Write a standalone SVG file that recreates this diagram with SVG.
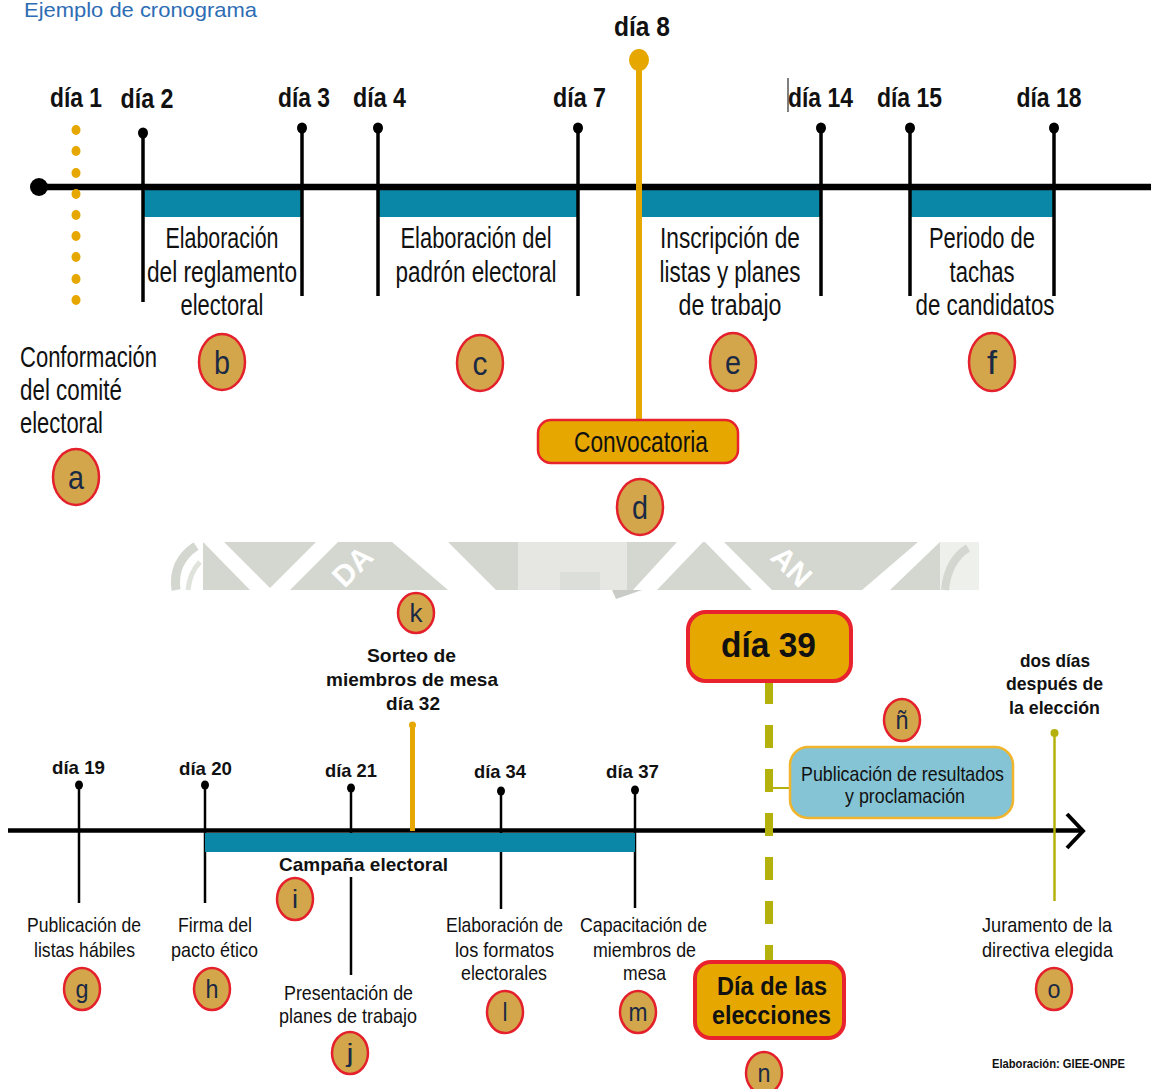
<svg xmlns="http://www.w3.org/2000/svg" width="1151" height="1089" viewBox="0 0 1151 1089">
<style>
text{font-family:"Liberation Sans",Arial,sans-serif;fill:#111}
.dt{font-size:27px;font-weight:bold;text-anchor:middle}
.tt{font-size:29px;text-anchor:middle}
.bt{font-size:21px;text-anchor:middle}
.bb{font-size:19px;font-weight:bold;text-anchor:middle}
.c1{fill:#d4a64b;stroke:#e3202b;stroke-width:2.5}
.l1{font-size:34px;text-anchor:middle;fill:#1b2a44}
.l2{font-size:26px;text-anchor:middle;fill:#1b2a44}
.tk{stroke:#000;stroke-width:3.5}
.tk2{stroke:#000;stroke-width:2.5}
.bar{fill:#0a86a6}
.box{fill:#e6a700;stroke:#e8232e}
.wm{fill:#fff}
</style>

<!-- watermark fragment -->
<g id="watermark">
<rect x="167" y="542" width="812" height="48" fill="#d4d7cf"/>
<rect x="167" y="542" width="36" height="48" class="wm"/>
<path d="M176,590 Q172,562 196,546" fill="none" stroke="#d4d7cf" stroke-width="9"/>
<path d="M188,590 Q190,572 200,562" fill="none" stroke="#e0e2dc" stroke-width="5"/>
<polygon class="wm" points="203,542 224,542 272,590 250,590"/>
<polygon class="wm" points="268,590 290,590 338,542 316,542"/>
<polygon class="wm" points="392,542 448,542 496,590 448,590"/>
<polygon points="518,542 627,542 627,590 518,590" fill="#e6e7e3"/>
<polygon points="560,572 600,572 600,590 560,590" fill="#dcdeda"/>
<polygon class="wm" points="633,590 657,590 703,542 677,542"/>
<polygon class="wm" points="705,542 724,542 772,590 752,590"/>
<polygon class="wm" points="862,590 890,590 940,542 918,542"/>
<rect x="940" y="542" width="39" height="48" fill="#eef0ec"/>
<path d="M945,590 Q948,560 968,548" fill="none" stroke="#d4d7cf" stroke-width="8"/>
<polygon points="612,590 642,590 616,599" fill="#c9ccc6"/>
<text x="352" y="577" transform="rotate(-45 352 566)" font-size="30" font-weight="bold" text-anchor="middle" style="fill:#fff">DA</text>
<text x="792" y="577" transform="rotate(45 792 566)" font-size="30" font-weight="bold" text-anchor="middle" style="fill:#fff">AN</text>
</g>

<!-- title -->
<g id="title">
<text x="24" y="17" font-size="21" textLength="233" lengthAdjust="spacingAndGlyphs" style="fill:#2d6db4">Ejemplo de cronograma</text>
</g>

<!-- connectors: axes, bars, ticks -->
<g id="connectors">
<!-- top timeline -->
<rect class="bar" x="143" y="190" width="159" height="27"/>
<rect class="bar" x="378" y="190" width="200" height="27"/>
<rect class="bar" x="641" y="190" width="180" height="27"/>
<rect class="bar" x="910" y="190" width="144" height="27"/>
<line x1="39" y1="187" x2="1151" y2="187" stroke="#000" stroke-width="6.5"/>
<circle cx="39" cy="187" r="9" fill="#000"/>
<g fill="#e6a700">
<ellipse cx="76" cy="130" rx="4.5" ry="5"/><ellipse cx="76" cy="151" rx="4.5" ry="5"/><ellipse cx="76" cy="173" rx="4.5" ry="5"/>
<ellipse cx="76" cy="194" rx="4.5" ry="5"/><ellipse cx="76" cy="215" rx="4.5" ry="5"/><ellipse cx="76" cy="236" rx="4.5" ry="5"/>
<ellipse cx="76" cy="257" rx="4.5" ry="5"/><ellipse cx="76" cy="279" rx="4.5" ry="5"/><ellipse cx="76" cy="300" rx="4.5" ry="5"/>
</g>
<line class="tk" x1="143" y1="133" x2="143" y2="302"/><ellipse cx="143" cy="133" rx="5" ry="5.5"/>
<line class="tk" x1="302" y1="128" x2="302" y2="296"/><ellipse cx="302" cy="128" rx="5" ry="5.5"/>
<line class="tk" x1="378" y1="128" x2="378" y2="296"/><ellipse cx="378" cy="128" rx="5" ry="5.5"/>
<line class="tk" x1="578" y1="128" x2="578" y2="296"/><ellipse cx="578" cy="128" rx="5" ry="5.5"/>
<line class="tk" x1="821" y1="128" x2="821" y2="296"/><ellipse cx="821" cy="128" rx="5" ry="5.5"/>
<line class="tk" x1="910" y1="128" x2="910" y2="296"/><ellipse cx="910" cy="128" rx="5" ry="5.5"/>
<line class="tk" x1="1054" y1="128" x2="1054" y2="296"/><ellipse cx="1054" cy="128" rx="5" ry="5.5"/>
<line x1="639" y1="60" x2="639" y2="421" stroke="#e6a700" stroke-width="6"/>
<ellipse cx="639" cy="60" rx="10" ry="11" fill="#e6a700"/>
<line x1="788" y1="78" x2="788" y2="112" stroke="#000" stroke-width="1"/>

<!-- bottom timeline -->
<line class="tk2" x1="79" y1="785" x2="79" y2="903"/><ellipse cx="79" cy="785" rx="4" ry="4.5"/>
<line class="tk2" x1="205" y1="785" x2="205" y2="903"/><ellipse cx="205" cy="785" rx="4" ry="4.5"/>
<line class="tk2" x1="351" y1="788" x2="351" y2="833"/><line class="tk2" x1="351" y1="877" x2="351" y2="975"/><ellipse cx="351" cy="788" rx="4" ry="4.5"/>
<line class="tk2" x1="501" y1="791" x2="501" y2="909"/><ellipse cx="501" cy="791" rx="4" ry="4.5"/>
<line class="tk2" x1="635" y1="790" x2="635" y2="908"/><ellipse cx="635" cy="790" rx="4" ry="4.5"/>
<line x1="8" y1="830.5" x2="1082" y2="830.5" stroke="#000" stroke-width="4.5"/>
<polyline points="1067,814 1083,831 1067,848" fill="none" stroke="#000" stroke-width="4"/>
<rect class="bar" x="205" y="833" width="430" height="19"/>
<line x1="412.5" y1="725" x2="412.5" y2="831" stroke="#e6a700" stroke-width="5"/>
<circle cx="412.5" cy="725" r="3.5" fill="#e6a700"/>
<line x1="769" y1="681" x2="769" y2="962" stroke="#b5b10c" stroke-width="8" stroke-dasharray="23 21"/>
<line x1="769" y1="788" x2="790" y2="788" stroke="#b5b10c" stroke-width="2"/>
<line x1="1054.5" y1="733" x2="1054.5" y2="901" stroke="#b5b10c" stroke-width="2.5"/>
<circle cx="1054.5" cy="733" r="4" fill="#b5b10c"/>
</g>

<!-- top day labels -->
<g id="top-days">
<text class="dt" x="76" y="107" textLength="52" lengthAdjust="spacingAndGlyphs">día 1</text>
<text class="dt" x="147" y="108" textLength="53" lengthAdjust="spacingAndGlyphs">día 2</text>
<text class="dt" x="304" y="107" textLength="52" lengthAdjust="spacingAndGlyphs">día 3</text>
<text class="dt" x="379.5" y="107" textLength="53" lengthAdjust="spacingAndGlyphs">día 4</text>
<text class="dt" x="579.5" y="107" textLength="53" lengthAdjust="spacingAndGlyphs">día 7</text>
<text class="dt" x="642" y="36" font-size="28" textLength="56" lengthAdjust="spacingAndGlyphs">día 8</text>
<text class="dt" x="820.5" y="107" textLength="65" lengthAdjust="spacingAndGlyphs">día 14</text>
<text class="dt" x="909.5" y="107" textLength="65" lengthAdjust="spacingAndGlyphs">día 15</text>
<text class="dt" x="1049" y="107" textLength="65" lengthAdjust="spacingAndGlyphs">día 18</text>
</g>

<g id="node-a">
<text x="20" y="367" font-size="29" textLength="137" lengthAdjust="spacingAndGlyphs">Conformación</text>
<text x="20" y="400" font-size="29" textLength="102" lengthAdjust="spacingAndGlyphs">del comité</text>
<text x="20" y="433" font-size="29" textLength="83" lengthAdjust="spacingAndGlyphs">electoral</text>
<ellipse class="c1" cx="76" cy="477" rx="23" ry="28"/>
<text class="l1" x="76" y="489" textLength="16" lengthAdjust="spacingAndGlyphs">a</text>
</g>

<g id="node-b">
<text class="tt" x="222" y="248" textLength="113" lengthAdjust="spacingAndGlyphs">Elaboración</text>
<text class="tt" x="222" y="282" textLength="150" lengthAdjust="spacingAndGlyphs">del reglamento</text>
<text class="tt" x="222" y="315" textLength="83" lengthAdjust="spacingAndGlyphs">electoral</text>
<ellipse class="c1" cx="222" cy="362" rx="23" ry="28"/>
<text class="l1" x="222" y="374" textLength="16" lengthAdjust="spacingAndGlyphs">b</text>
</g>

<g id="node-c">
<text class="tt" x="476" y="248" textLength="151" lengthAdjust="spacingAndGlyphs">Elaboración del</text>
<text class="tt" x="476" y="282" textLength="161" lengthAdjust="spacingAndGlyphs">padrón electoral</text>
<ellipse class="c1" cx="480" cy="363" rx="23" ry="28"/>
<text class="l1" x="480" y="375" textLength="15" lengthAdjust="spacingAndGlyphs">c</text>
</g>

<g id="node-d">
<rect class="box" x="538" y="420" width="200" height="43" rx="13" stroke-width="2.5"/>
<text class="tt" x="641" y="452" textLength="134" lengthAdjust="spacingAndGlyphs">Convocatoria</text>
<ellipse class="c1" cx="640" cy="507" rx="23" ry="28"/>
<text class="l1" x="640" y="519" textLength="16" lengthAdjust="spacingAndGlyphs">d</text>
</g>

<g id="node-e">
<text class="tt" x="730" y="248" textLength="140" lengthAdjust="spacingAndGlyphs">Inscripción de</text>
<text class="tt" x="730" y="282" textLength="141" lengthAdjust="spacingAndGlyphs">listas y planes</text>
<text class="tt" x="730" y="315" textLength="103" lengthAdjust="spacingAndGlyphs">de trabajo</text>
<ellipse class="c1" cx="733" cy="362" rx="23" ry="29"/>
<text class="l1" x="733" y="374" textLength="16" lengthAdjust="spacingAndGlyphs">e</text>
</g>

<g id="node-f">
<text class="tt" x="982" y="248" textLength="106" lengthAdjust="spacingAndGlyphs">Periodo de</text>
<text class="tt" x="982" y="282" textLength="65" lengthAdjust="spacingAndGlyphs">tachas</text>
<text class="tt" x="985" y="315" textLength="139" lengthAdjust="spacingAndGlyphs">de candidatos</text>
<ellipse class="c1" cx="992" cy="362" rx="23" ry="29"/>
<text class="l1" x="992" y="374" textLength="10" lengthAdjust="spacingAndGlyphs">f</text>
</g>

<!-- bottom day labels -->
<g id="bottom-days">
<text class="bb" x="78.5" y="774" textLength="53" lengthAdjust="spacingAndGlyphs">día 19</text>
<text class="bb" x="205.5" y="775" textLength="53" lengthAdjust="spacingAndGlyphs">día 20</text>
<text class="bb" x="351" y="777" textLength="52" lengthAdjust="spacingAndGlyphs">día 21</text>
<text class="bb" x="500" y="778" textLength="52" lengthAdjust="spacingAndGlyphs">día 34</text>
<text class="bb" x="632.5" y="778" textLength="53" lengthAdjust="spacingAndGlyphs">día 37</text>
</g>

<g id="node-g">
<text class="bt" x="84" y="932" textLength="114" lengthAdjust="spacingAndGlyphs">Publicación de</text>
<text class="bt" x="84.5" y="957" textLength="101" lengthAdjust="spacingAndGlyphs">listas hábiles</text>
<ellipse class="c1" cx="82" cy="989" rx="18" ry="21"/>
<text class="l2" x="82" y="998" textLength="13" lengthAdjust="spacingAndGlyphs">g</text>
</g>

<g id="node-h">
<text class="bt" x="215" y="932" textLength="74" lengthAdjust="spacingAndGlyphs">Firma del</text>
<text class="bt" x="214.5" y="957" textLength="87" lengthAdjust="spacingAndGlyphs">pacto ético</text>
<ellipse class="c1" cx="212" cy="989" rx="18" ry="21"/>
<text class="l2" x="212" y="998" textLength="13" lengthAdjust="spacingAndGlyphs">h</text>
</g>

<g id="node-i">
<text class="bb" x="363.5" y="871" textLength="169" lengthAdjust="spacingAndGlyphs">Campaña electoral</text>
<ellipse class="c1" cx="295" cy="899" rx="18" ry="21"/>
<text class="l2" x="295" y="908" textLength="6" lengthAdjust="spacingAndGlyphs">i</text>
</g>

<g id="node-j">
<text class="bt" x="348.5" y="1000" textLength="129" lengthAdjust="spacingAndGlyphs">Presentación de</text>
<text class="bt" x="348" y="1023" textLength="138" lengthAdjust="spacingAndGlyphs">planes de trabajo</text>
<ellipse class="c1" cx="350" cy="1053" rx="18" ry="21"/>
<text class="l2" x="350" y="1062" textLength="7" lengthAdjust="spacingAndGlyphs">j</text>
</g>

<g id="node-k">
<ellipse class="c1" cx="416" cy="613" rx="18" ry="20"/>
<text class="l2" x="416" y="622" textLength="13" lengthAdjust="spacingAndGlyphs">k</text>
<text class="bb" x="411.5" y="662" textLength="89" lengthAdjust="spacingAndGlyphs">Sorteo de</text>
<text class="bb" x="412" y="686" textLength="172" lengthAdjust="spacingAndGlyphs">miembros de mesa</text>
<text class="bb" x="413" y="710" textLength="54" lengthAdjust="spacingAndGlyphs">día 32</text>
</g>

<g id="node-l">
<text class="bt" x="504.5" y="932" textLength="117" lengthAdjust="spacingAndGlyphs">Elaboración de</text>
<text class="bt" x="504.5" y="957" textLength="99" lengthAdjust="spacingAndGlyphs">los formatos</text>
<text class="bt" x="504" y="980" textLength="86" lengthAdjust="spacingAndGlyphs">electorales</text>
<ellipse class="c1" cx="505" cy="1012" rx="18" ry="21"/>
<text class="l2" x="505" y="1021" textLength="5" lengthAdjust="spacingAndGlyphs">l</text>
</g>

<g id="node-m">
<text class="bt" x="643.5" y="932" textLength="127" lengthAdjust="spacingAndGlyphs">Capacitación de</text>
<text class="bt" x="644.5" y="957" textLength="103" lengthAdjust="spacingAndGlyphs">miembros de</text>
<text class="bt" x="644.5" y="980" textLength="43" lengthAdjust="spacingAndGlyphs">mesa</text>
<ellipse class="c1" cx="638" cy="1012" rx="18" ry="21"/>
<text class="l2" x="638" y="1021" textLength="19" lengthAdjust="spacingAndGlyphs">m</text>
</g>

<g id="node-dia39">
<rect class="box" x="688" y="612" width="163" height="69" rx="18" stroke-width="4"/>
<text x="768.5" y="657" font-size="35" font-weight="bold" text-anchor="middle" textLength="95" lengthAdjust="spacingAndGlyphs">día 39</text>
</g>

<g id="node-n">
<rect class="box" x="695" y="962" width="149" height="76" rx="16" stroke-width="4"/>
<text x="772" y="995" font-size="25" font-weight="bold" text-anchor="middle" textLength="110" lengthAdjust="spacingAndGlyphs">Día de las</text>
<text x="771.5" y="1024" font-size="25" font-weight="bold" text-anchor="middle" textLength="119" lengthAdjust="spacingAndGlyphs">elecciones</text>
<ellipse class="c1" cx="764" cy="1073" rx="18" ry="21"/>
<text class="l2" x="764" y="1082" textLength="13" lengthAdjust="spacingAndGlyphs">n</text>
</g>

<g id="node-enie">
<ellipse class="c1" cx="902" cy="720" rx="18" ry="21"/>
<text class="l2" x="902" y="729" textLength="13" lengthAdjust="spacingAndGlyphs">ñ</text>
<rect x="790" y="747" width="223" height="71" rx="18" fill="#84c4d4" stroke="#f1b52d" stroke-width="2.5"/>
<text x="902.5" y="781" font-size="21" text-anchor="middle" textLength="203" lengthAdjust="spacingAndGlyphs">Publicación de resultados</text>
<text x="905" y="803" font-size="21" text-anchor="middle" textLength="120" lengthAdjust="spacingAndGlyphs">y proclamación</text>
</g>

<g id="node-o">
<text class="bb" x="1055" y="667" textLength="70" lengthAdjust="spacingAndGlyphs">dos días</text>
<text class="bb" x="1054.5" y="690" textLength="97" lengthAdjust="spacingAndGlyphs">después de</text>
<text class="bb" x="1054.5" y="714" textLength="91" lengthAdjust="spacingAndGlyphs">la elección</text>
<text class="bt" x="1047" y="932" textLength="130" lengthAdjust="spacingAndGlyphs">Juramento de la</text>
<text class="bt" x="1047.5" y="957" textLength="131" lengthAdjust="spacingAndGlyphs">directiva elegida</text>
<ellipse class="c1" cx="1054" cy="989" rx="18" ry="21"/>
<text class="l2" x="1054" y="998" textLength="13" lengthAdjust="spacingAndGlyphs">o</text>
</g>

<g id="credit">
<text x="1058.5" y="1068" font-size="13" font-weight="bold" text-anchor="middle" textLength="133" lengthAdjust="spacingAndGlyphs">Elaboración: GIEE-ONPE</text>
</g>
</svg>
